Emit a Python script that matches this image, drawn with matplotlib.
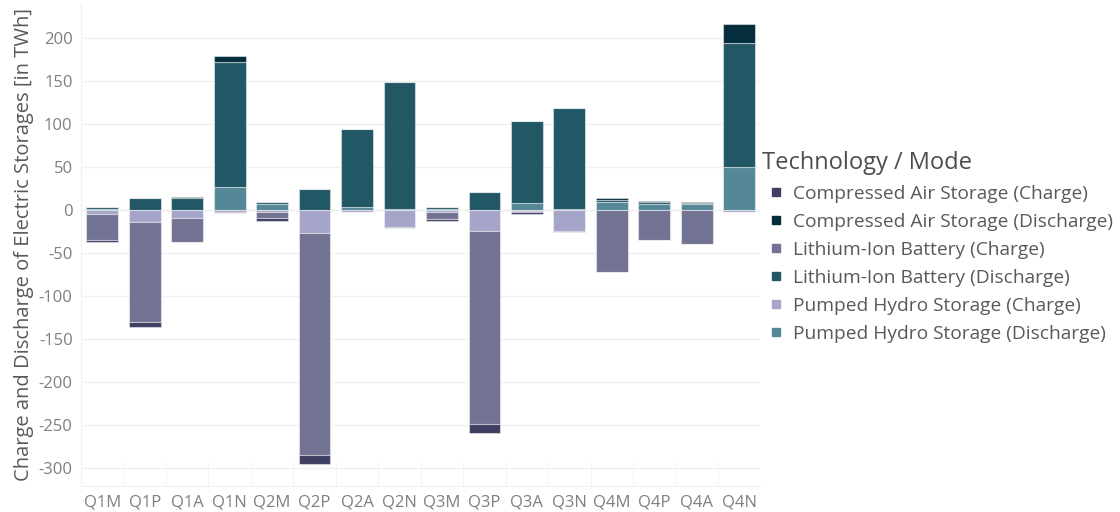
import matplotlib.pyplot as plt
import numpy as np
from matplotlib.lines import Line2D

plt.rcParams['font.family'] = ['Open Sans', 'DejaVu Sans']

# Quartale / Szenarien
cats = ['Q1M', 'Q1P', 'Q1A', 'Q1N', 'Q2M', 'Q2P', 'Q2A', 'Q2N',
        'Q3M', 'Q3P', 'Q3A', 'Q3N', 'Q4M', 'Q4P', 'Q4A', 'Q4N']

# Entladen (positiv), TWh
phs_dis = [1, 0.5, 0, 26.5, 6.6, 0.3, 4, 1, 1.5, 0.3, 8.5, 1, 9.7, 7.4, 6.6, 50.4]
li_dis = [2.5, 13.5, 14.5, 145.5, 2.3, 24, 90, 148, 2, 20.5, 95.5, 118, 2.2, 1.5, 1, 143.6]
cas_dis = [0.5, 0, 1, 7, 0.5, 0, 0, 0, 0, 0, 0, 0, 1.5, 1.5, 1.5, 22.4]

# Laden (negativ), TWh
phs_chg = [-5, -13.6, -9.3, -2.7, -2.7, -27, -2, -20, -2.5, -24, -1, -25, -0.5, -0.3, -0.3, -2]
li_chg = [-30, -117, -28, -0.5, -7, -257.5, -0.3, -1, -8.5, -224.8, -1.5, -1, -72, -35, -39.7, -0.3]
cas_chg = [-2.5, -6, -0.5, 0, -2.7, -11, 0, 0, -2, -10.5, -2, 0, 0, 0, 0, 0]

labels = ['Compressed Air Storage (Charge)', 'Compressed Air Storage (Discharge)',
          'Lithium-Ion Battery (Charge)', 'Lithium-Ion Battery (Discharge)',
          'Pumped Hydro Storage (Charge)', 'Pumped Hydro Storage (Discharge)']
colors = ['#3f3f62', '#052e3c', '#727293', '#225866', '#a5a5ca', '#548897']

fig = plt.figure(figsize=(11.2, 5.12), dpi=100)
ax = fig.add_axes([0.0723, 0.0508, 0.6067, 0.943])

x = np.arange(len(cats))
w = 0.75
edge = (1, 1, 1, 0.45)

pos = np.zeros(len(cats))
for vals, c in [(phs_dis, colors[5]), (li_dis, colors[3]), (cas_dis, colors[1])]:
    ax.bar(x, vals, w, bottom=pos, color=c, edgecolor=edge, linewidth=0.8, zorder=3)
    pos += np.array(vals)

neg = np.zeros(len(cats))
for vals, c in [(phs_chg, colors[4]), (li_chg, colors[2]), (cas_chg, colors[0])]:
    ax.bar(x, vals, w, bottom=neg, color=c, edgecolor=edge, linewidth=0.8, zorder=3)
    neg += np.array(vals)

ax.set_xlim(-0.5, len(cats) - 0.5)
ax.set_ylim(-321, 240.5)
ax.set_yticks(np.arange(-300, 201, 50))
ax.set_yticklabels([str(v) for v in np.arange(-300, 201, 50)])
ax.set_xticks(x)
ax.set_xticklabels(cats)
ax.set_xticks(x[:-1] + 0.5, minor=True)

ax.grid(axis='y', color='#f0f0f0', linewidth=1, zorder=0)
ax.axhline(0, color='#e2e2e2', linewidth=1, linestyle=(0, (3, 3)), zorder=1)

for s in ['top', 'right']:
    ax.spines[s].set_visible(False)
ax.spines['left'].set_color('#f0f0f0')
ax.spines['bottom'].set_color('#f0f0f0')

ax.tick_params(axis='both', which='major', length=0, labelsize=12, labelcolor='#7f7f7f', pad=6)
ax.tick_params(axis='x', which='minor', direction='in', length=17, color='#f2f2f2')
ax.set_ylabel('Charge and Discharge of Electric Storages [in TWh]', fontsize=14.5, color='#595959', labelpad=3)

# Legende mit eigenem Titel
fig.text(762 / 1120, 1 - 163 / 512, 'Technology / Mode', fontsize=17, color='#4d4d4d', va='center', ha='left')
handles = [Line2D([0], [0], marker='s', linestyle='none', markersize=6,
                  markerfacecolor=c, markeredgecolor=c) for c in colors]
leg = fig.legend(handles, labels, loc='upper left',
                 bbox_to_anchor=(0.6876, 0.639), frameon=False, fontsize=13.8,
                 handlelength=0.6, handletextpad=0.6,
                 labelspacing=0.52, borderaxespad=0, borderpad=0)
for t in leg.get_texts():
    t.set_color('#595959')

fig.savefig('out.png', dpi=100)
